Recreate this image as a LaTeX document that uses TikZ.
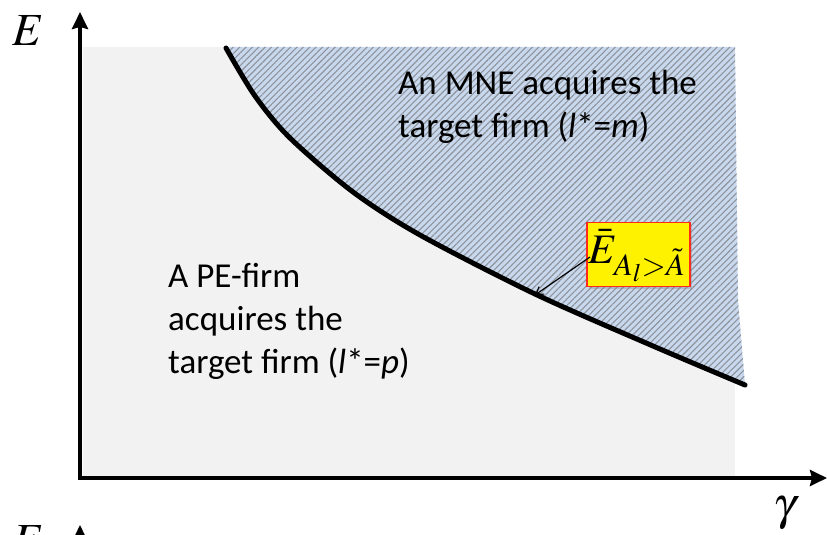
\documentclass[tikz,border=0pt]{standalone}
\usepackage{mathptmx}
\usepackage[no-math]{fontspec}
\setmainfont{Carlito}
\usetikzlibrary{arrows.meta,patterns.meta,shadows}
\definecolor{bggray}{HTML}{F2F2F2}
\definecolor{hatchblue}{HTML}{C8D8EE}
\definecolor{hatchline}{HTML}{8E9399}
\definecolor{boxred}{HTML}{FF2A1A}
\tikzset{
  axis/.style={line width=4pt,-{Stealth[length=17pt,width=16pt,inset=2pt]}},
  bound/.style={line width=5pt,line cap=round},
  regiontext/.style={font=\fontsize{35}{43}\selectfont,align=left,inner sep=0pt,anchor=north west},
  axislabel/.style={font=\fontsize{46}{46}\selectfont,inner sep=0pt},
  labelbox/.style={draw=boxred,line width=1.5pt,fill=yellow,minimum width=103pt,minimum height=64pt,inner sep=0pt,
    drop shadow={shadow xshift=2pt,shadow yshift=-2pt,opacity=0.35}},
  pointer/.style={line width=1.2pt,-{Straight Barb[length=7pt,width=9pt]}}
}
\begin{document}
\begin{tikzpicture}[x=1pt,y=-1pt]
\useasboundingbox (0,0) rectangle (827,535);
\begin{scope}
\clip (0,0) rectangle (827,535);
% background region
\fill[bggray] (83,47) rectangle (735,477);
% hatched region
\fill[hatchblue] plot[smooth] coordinates {(226,47) (255,96) (290,138) (353,192) (420,235) (535,294) (653,346) (745,385)}
  -- (738,300) -- (735,47) -- cycle;
\fill[pattern={Lines[angle=45,distance=4.5pt,line width=1.1pt]},pattern color=hatchline]
  plot[smooth] coordinates {(226,47) (255,96) (290,138) (353,192) (420,235) (535,294) (653,346) (745,385)}
  -- (738,300) -- (735,47) -- cycle;
% boundary curve
\draw[bound] plot[smooth] coordinates {(226,48) (255,96) (290,138) (353,192) (420,235) (535,294) (653,346) (745,385)};
\coordinate (cp) at (535,295);
% axes
\coordinate (ytop) at (80,12);
\coordinate (xend) at (827,478);
\draw[axis] (80,480) -- (ytop);
\draw[axis] (78,478) -- (xend);
\node[axislabel] (elab) at (28,31) {$E$};
\node[axislabel] (glab) at (785,513) {$\gamma$};
% texts
\node[regiontext] (mne) at (398,70) {An MNE acquires the\\target firm (\textit{l}*=\textit{m})};
\node[regiontext] (pe) at (168,263) {A PE-firm\\acquires the\\target firm (\textit{l}*=\textit{p})};
% label box
\node[labelbox] (lbl) at (638.5,254.5) {};
\node[inner sep=0pt,anchor=base west] (lbltext) at (588,263) {\fontsize{42}{42}\selectfont$\bar{E}_{A_l>\tilde{A}}$};
\coordinate (ps) at (590,257);
\draw[pointer] (ps) -- (cp);
% cut-off elements at bottom
\node[axislabel] (elab2) at (28,541) {$E$};
\coordinate (ytop2) at (80,525);
\draw[axis] (80,560) -- (ytop2);
\end{scope}
\end{tikzpicture}
\end{document}
